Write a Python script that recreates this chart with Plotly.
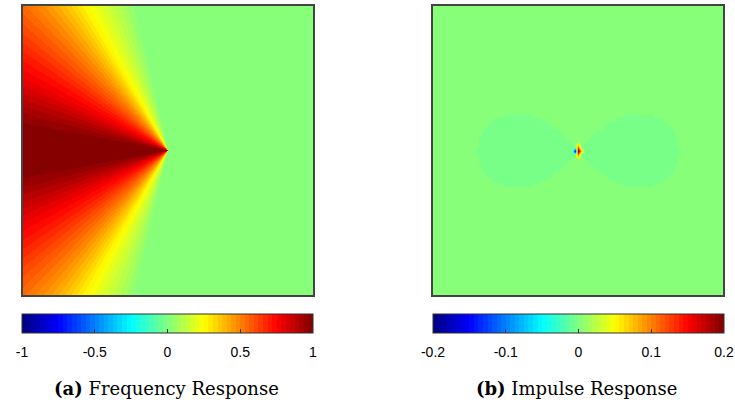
import numpy as np
import plotly.graph_objects as go

# ---- Frequency response: value vs. angle measured from the negative x-axis (degrees)
freq_angle_deg = [0, 2.5, 5, 7.5, 10, 12.5, 15, 17.5, 20, 22.5, 25, 27.5, 30, 32.5,
                  35, 37.5, 40, 42.5, 45, 47.5, 50, 52.5, 55, 57.5, 60, 62.5, 65,
                  67.5, 70, 72.5, 75, 77.5, 80, 180]
freq_value = [1.00, 1.00, 0.99, 0.985, 0.975, 0.955, 0.93, 0.90, 0.87, 0.835, 0.80,
              0.77, 0.74, 0.71, 0.68, 0.645, 0.61, 0.575, 0.54, 0.50, 0.46, 0.415,
              0.37, 0.32, 0.27, 0.23, 0.19, 0.155, 0.12, 0.085, 0.05, 0.02, 0.0, 0.0]
freq_range = [-1.0, 1.0]
freq_ticks = [-1, -0.5, 0, 0.5, 1]
freq_ticktext = ["-1", "-0.5", "0", "0.5", "1"]

# ---- Impulse response: two faint lobes (outline radius vs. angle from horizontal)
lobe_angle_deg = [0, 10, 20, 30, 35, 40, 45, 90]
lobe_radius = [0.69, 0.67, 0.61, 0.49, 0.41, 0.29, 0.0, 0.0]
lobe_value = -0.002
# compact dipole at the origin
dipole_x = [0.0, -0.021, 0.021, 0.0, 0.0, 0.0, 0.0]
dipole_y = [0.0, 0.0, 0.0, 0.021, -0.021, 0.042, -0.042]
dipole_value = [0.2, -0.16, 0.08, 0.11, 0.11, 0.05, 0.05]
imp_range = [-0.2, 0.2]
imp_ticks = [-0.2, -0.1, 0, 0.1, 0.2]
imp_ticktext = ["-0.2", "-0.1", "0", "0.1", "0.2"]

captions = ["<b>(a)</b> Frequency Response", "<b>(b)</b> Impulse Response"]


def jet64():
    """MATLAB-style 64-level jet colormap as a stepped Plotly colorscale."""
    n = 64
    cols = []
    for i in range(n):
        t = (i + 0.5) / n
        r = np.clip(min(4 * t - 1.5, -4 * t + 4.5), 0, 1)
        g = np.clip(min(4 * t - 0.5, -4 * t + 3.5), 0, 1)
        b = np.clip(min(4 * t + 0.5, -4 * t + 2.5), 0, 1)
        cols.append("rgb(%d,%d,%d)" % (round(r * 255), round(g * 255), round(b * 255)))
    scale = []
    for i, c in enumerate(cols):
        scale.append([i / n, c])
        scale.append([(i + 1) / n, c])
    return scale


JET = jet64()

# frequency response grid
nf_x, nf_y = 290, 289
fx = -1 + (np.arange(nf_x) + 0.5) * 2 / nf_x
fy = -1 + (np.arange(nf_y) + 0.5) * 2 / nf_y
FX, FY = np.meshgrid(fx, fy)
phi = np.degrees(np.arctan2(np.abs(FY), -FX))
freq_z = np.round(np.interp(phi, freq_angle_deg, freq_value), 4)

# impulse response grid (coarser, drawn smoothed)
ni = 97
ix = np.linspace(-1, 1, ni)
iy = np.linspace(-1, 1, ni)
IX, IY = np.meshgrid(ix, iy)
rad = np.hypot(IX, IY)
theta = np.degrees(np.arctan2(np.abs(IY), np.abs(IX)))
imp_z = np.where(rad < np.interp(theta, lobe_angle_deg, lobe_radius), lobe_value, 0.0)
for dx_, dy_, v in zip(dipole_x, dipole_y, dipole_value):
    ci = int(np.argmin(np.abs(ix - dx_)))
    ri = int(np.argmin(np.abs(iy - dy_)))
    imp_z[ri, ci] = v

W, H = 735, 403


def px_x(p):
    return p / W


def px_y(p):
    return 1 - p / H


fig = go.Figure()
fig.add_trace(go.Heatmap(x=fx, y=fy, z=freq_z, coloraxis="coloraxis",
                         xaxis="x", yaxis="y", hoverinfo="skip"))
fig.add_trace(go.Heatmap(x=ix, y=iy, z=imp_z, coloraxis="coloraxis2", zsmooth="best",
                         xaxis="x2", yaxis="y2", hoverinfo="skip"))
# empty traces so the colour-bar label axes get drawn
for xa, ya in (("x3", "y3"), ("x4", "y4")):
    fig.add_trace(go.Scatter(x=[], y=[], xaxis=xa, yaxis=ya, mode="markers",
                             showlegend=False, hoverinfo="skip"))

frame = dict(showline=True, mirror=True, linecolor="#444", linewidth=1.5,
             showticklabels=False, ticks="", showgrid=False, zeroline=False,
             fixedrange=True, automargin=False)

tickfont = dict(family="Liberation Sans, Arial, sans-serif", size=14, color="black")

CB_TOP, CB_BOTTOM = 314, 333


def cbar(x_left, x_right):
    return dict(orientation="h", x=px_x((x_left + x_right) / 2), xanchor="center",
                y=px_y(CB_TOP), yanchor="top", lenmode="pixels", len=x_right - x_left,
                thicknessmode="pixels", thickness=CB_BOTTOM - CB_TOP, xpad=0, ypad=0,
                outlinewidth=1, outlinecolor="#333", ticks="inside", ticklen=4,
                tickcolor="#333", showticklabels=False)


# label axes laid along the bottom edge of each colour bar
def label_axis(x_left, x_right, rng, tickvals, ticktext, anchor):
    return dict(domain=[px_x(x_left), px_x(x_right)], range=rng, anchor=anchor,
                tickmode="array", tickvals=tickvals, ticktext=ticktext,
                tickfont=tickfont, ticks="", showline=False, showgrid=False,
                zeroline=False, ticklabelstandoff=9, fixedrange=True,
                automargin=False)


hidden_y = dict(domain=[px_y(CB_BOTTOM), px_y(CB_TOP)], range=[0, 1], visible=False,
                fixedrange=True, automargin=False)

fig.update_layout(
    width=W, height=H, margin=dict(l=0, r=0, t=0, b=0, autoexpand=False),
    paper_bgcolor="white", plot_bgcolor="rgba(0,0,0,0)", showlegend=False,
    xaxis=dict(domain=[px_x(23), px_x(313)], range=[-1, 1], anchor="y", **frame),
    yaxis=dict(domain=[px_y(295), px_y(6)], range=[-1, 1], anchor="x", **frame),
    xaxis2=dict(domain=[px_x(433), px_x(723)], range=[-1, 1], anchor="y2", **frame),
    yaxis2=dict(domain=[px_y(295), px_y(6)], range=[-1, 1], anchor="x2", **frame),
    xaxis3=label_axis(22, 313, freq_range, freq_ticks, freq_ticktext, "y3"),
    yaxis3=dict(anchor="x3", **hidden_y),
    xaxis4=label_axis(433, 724, imp_range, imp_ticks, imp_ticktext, "y4"),
    yaxis4=dict(anchor="x4", **hidden_y),
    coloraxis=dict(colorscale=JET, cmin=freq_range[0], cmax=freq_range[1],
                   colorbar=cbar(22, 313)),
    coloraxis2=dict(colorscale=JET, cmin=imp_range[0], cmax=imp_range[1],
                    colorbar=cbar(433, 724)),
)

for cx, text in zip([166.5, 576], captions):
    fig.add_annotation(x=px_x(cx), y=px_y(388), xref="paper", yref="paper",
                       text=text, showarrow=False, xanchor="center", yanchor="middle",
                       font=dict(family="DejaVu Serif, serif", size=18, color="black"))

fig.write_html("out.html")
